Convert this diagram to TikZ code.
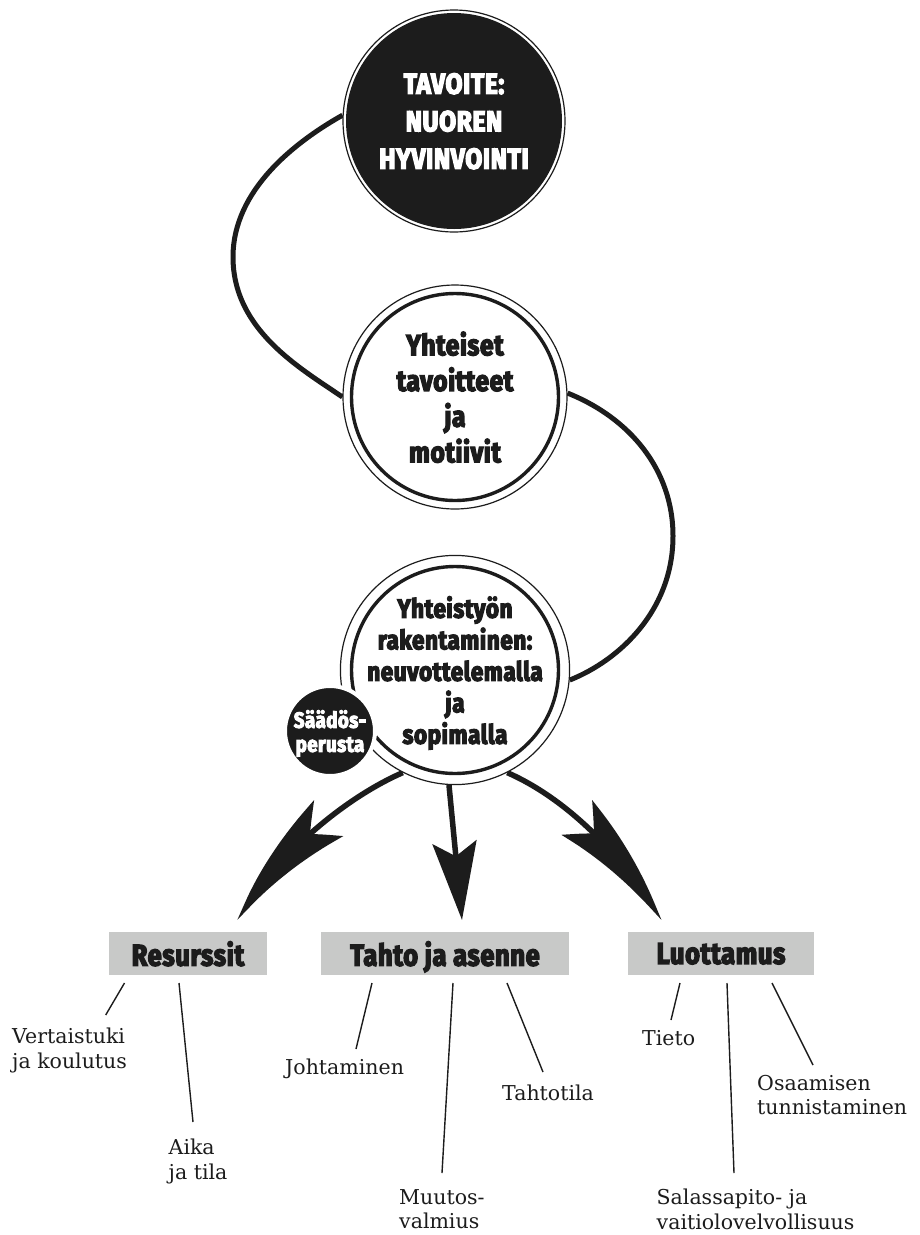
\documentclass[tikz,border=0pt]{standalone}
\usepackage{fontspec}
\usetikzlibrary{arrows.meta,bending}
\newfontfamily\hv{Fira Sans}[FakeStretch=0.85,BoldFeatures={FakeBold=4.5},LetterSpace=2]
\newfontfamily\leaffont{DejaVu Serif}
\definecolor{ink}{HTML}{1C1C1C}
\definecolor{boxgray}{HTML}{C8C9C8}
\pgfdeclarelayer{back}
\pgfsetlayers{back,main}
\tikzset{
  goalnode/.style={circle,draw=ink,line width=1.2pt,fill=white,minimum size=222pt,inner sep=0pt,
    path picture={\fill[ink] (path picture bounding box.center) circle (108pt);},
    text=white,align=center,text depth=0pt,font=\hv\bfseries\fontsize{29}{37.5}\selectfont},
  ringnode/.style={circle,draw=ink,line width=1.2pt,fill=white,minimum size=224pt,inner sep=0pt,
    path picture={\draw[ink,line width=3.4pt] (path picture bounding box.center) circle (103.5pt);},
    text=ink,align=center,text depth=0pt},
  smallnode/.style={circle,fill=ink,draw=white,line width=4pt,minimum size=90pt,inner sep=0pt,
    text=white,align=center,text depth=0pt,font=\hv\bfseries\fontsize{22}{24}\selectfont},
  catbox/.style={fill=boxgray,minimum height=43pt,inner sep=0pt,text=ink,text depth=0pt,
    font=\hv\bfseries\fontsize{30}{33}\selectfont},
  leaf/.style={anchor=north west,inner sep=0pt,align=left,text=ink,font=\leaffont\fontsize{20.5}{24.5}\selectfont},
  twig/.style={draw=ink,line width=1.4pt},
  swoop/.style={draw=ink,line width=5pt},
  sidearrow/.style={draw=ink,line width=5.5pt,-{Stealth[length=128pt,width=46pt,inset=22pt,bend]}},
  midarrow/.style={draw=ink,line width=5.5pt,-{Stealth[length=78pt,width=44pt,inset=14pt]}},
}
\begin{document}
\begin{tikzpicture}[x=1pt,y=1pt]
\begin{pgfonlayer}{back}
  \path[fill=white,use as bounding box] (0,0) rectangle (919,-1235);
\end{pgfonlayer}

% circles
\node[goalnode] (goal) at (454,-121) {TAVOITE:\\NUOREN\\HYVINVOINTI};
\node[ringnode,font=\hv\bfseries\fontsize{29}{35.7}\selectfont] (shared) at (455,-397)
  {Yhteiset\\tavoitteet\\ja\\motiivit};
\node[ringnode,font=\hv\bfseries\fontsize{26.5}{31.5}\selectfont] (build) at (455,-670)
  {Yhteistyön\\rakentaminen:\\neuvottelemalla\\ja\\sopimalla};
\node[smallnode] (law) at (330,-731) {Säädös-\\perusta};

% boxes
\node[catbox,minimum width=158pt] (res) at (188,-953.5) {Resurssit};
\node[catbox,minimum width=248pt] (will) at (445,-953.5) {Tahto ja asenne};
\node[catbox,minimum width=186pt] (trust) at (721,-953.5) {Luottamus};

% arrow tips
\coordinate (tipL) at (238,-920);
\coordinate (tipM) at (462,-920);
\coordinate (tipR) at (661,-920);

\begin{pgfonlayer}{back}
  \draw[swoop] (goal.177) .. controls (295,-142) and (233,-190) .. (233,-257)
               .. controls (233,-330) and (300,-368) .. (shared.180);
  \draw[swoop] (shared.2) .. controls (630,-418) and (673,-470) .. (673,-536)
               .. controls (673,-610) and (620,-660) .. (build.-5);
  \draw[sidearrow] (build.-117) .. controls (340.5,-799.9) and (273,-859.4) .. (tipL);
  \draw[sidearrow] (build.-63) .. controls (569.5,-799.9) and (626,-859.4) .. (tipR);
  \draw[midarrow] (build.-93) -- (tipM);
\end{pgfonlayer}

% leaves
\node[leaf] (l1) at (12,-1028) {Vertaistuki\\ja koulutus};
\node[leaf] (l2) at (168.5,-1139) {Aika\\ja tila};
\node[leaf] (l3) at (285,-1059) {Johtaminen};
\node[leaf] (l4) at (399,-1189) {Muutos-\\valmius};
\node[leaf] (l5) at (502,-1085) {Tahtotila};
\node[leaf] (l6) at (642,-1030) {Tieto};
\node[leaf] (l7) at (656.5,-1189) {Salassapito- ja\\vaitiolovelvollisuus};
\node[leaf] (l8) at (757,-1075) {Osaamisen\\tunnistaminen};

% twig ends
\coordinate (a1) at (124.5,-983); \coordinate (b1) at (105.7,-1015);
\coordinate (a2) at (179,-983);   \coordinate (b2) at (193,-1122);
\coordinate (a3) at (372,-983);   \coordinate (b3) at (356,-1049);
\coordinate (a4) at (453,-983);   \coordinate (b4) at (442,-1173);
\coordinate (a5) at (507,-983);   \coordinate (b5) at (543,-1072);
\coordinate (a6) at (680,-983);   \coordinate (b6) at (671,-1020);
\coordinate (a7) at (727,-983);   \coordinate (b7) at (734,-1173);
\coordinate (a8) at (772,-983);   \coordinate (b8) at (813,-1065);
\foreach \i in {1,...,8} { \draw[twig] (a\i) -- (b\i); }
\end{tikzpicture}
\end{document}
